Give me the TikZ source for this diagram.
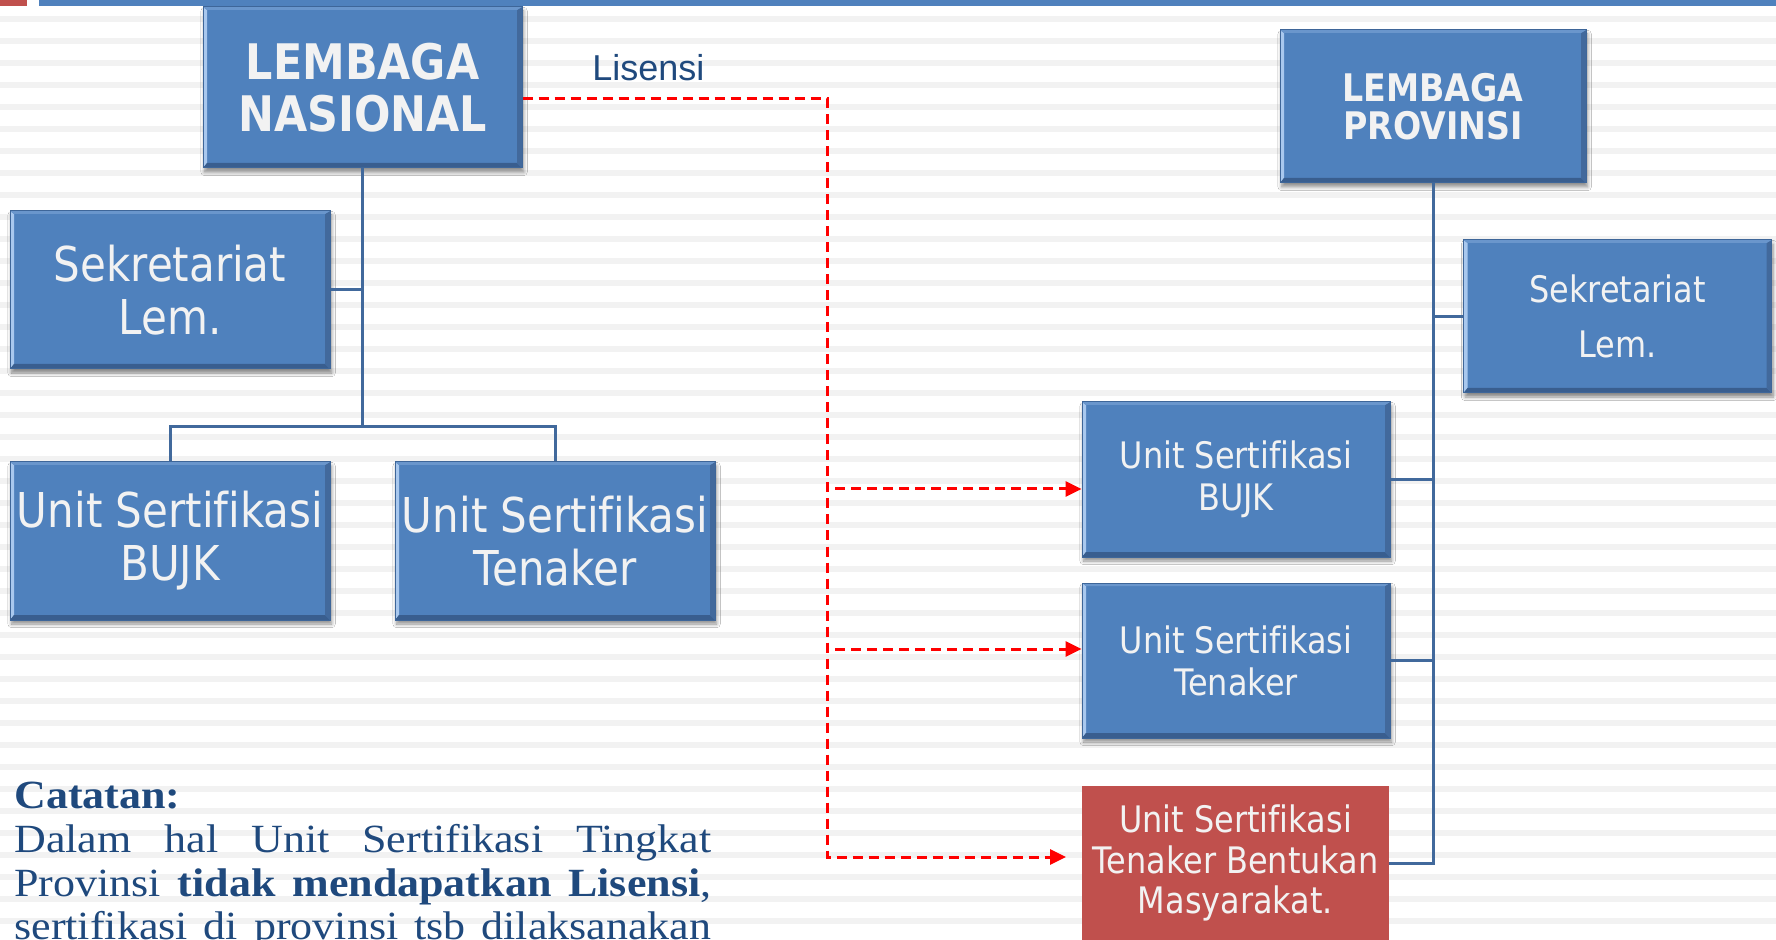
\documentclass[tikz,border=0pt]{standalone}
\usepackage{fontspec}
\setmainfont{Liberation Serif}
\newfontfamily\boxfont[FakeStretch=0.875,Ligatures=NoCommon]{DejaVu Sans}
\newfontfamily\labelfont{Liberation Sans}
\newfontfamily\notefont[FakeStretch=1.1]{Liberation Serif}
\usetikzlibrary{arrows.meta,calc,shadows.blur}

\definecolor{orgblue}{HTML}{4F81BD}
\definecolor{orgred}{HTML}{C0504D}
\definecolor{boxtext}{HTML}{F2F2F2}
\definecolor{bvborder}{HTML}{3E6699}
\definecolor{bvleft}{HTML}{A9C8EE}
\definecolor{bvtop}{HTML}{6A96CC}
\definecolor{bvright}{HTML}{42699C}
\definecolor{bvbottom}{HTML}{395E8F}
\definecolor{connblue}{HTML}{41699C}
\definecolor{notecol}{HTML}{1F497D}
\definecolor{stripe}{HTML}{F2F2F2}

\tikzset{
  bevel/.style={path picture={
    \path (path picture bounding box.north west) coordinate (q1)
          (path picture bounding box.south west) coordinate (q2)
          (path picture bounding box.south east) coordinate (q3)
          (path picture bounding box.north east) coordinate (q4);
    \fill[bvleft] (q1) -- (q2) -- ([shift={(2pt,2.5pt)}]q2) -- ([shift={(2pt,-1.5pt)}]q1) -- cycle;
    \fill[bvbottom] (q2) -- (q3) -- ([shift={(-2.5pt,2.5pt)}]q3) -- ([shift={(2pt,2.5pt)}]q2) -- cycle;
    \fill[bvright] (q3) -- (q4) -- ([shift={(-2.5pt,-1.5pt)}]q4) -- ([shift={(-2.5pt,2.5pt)}]q3) -- cycle;
    \fill[bvtop] (q4) -- (q1) -- ([shift={(2pt,-1.5pt)}]q1) -- ([shift={(-2.5pt,-1.5pt)}]q4) -- cycle;
  }},
  orgbox/.style={rectangle, fill=orgblue, draw=bvborder, line width=0.5pt,
    text=boxtext, align=center, inner sep=0pt, bevel,
    blur shadow={shadow xshift=0.8pt, shadow yshift=-2pt, shadow blur steps=6, shadow opacity=45}},
  bigbox/.style={orgbox, minimum width=160pt, minimum height=79pt,
    font=\boxfont\fontsize{24pt}{26.5pt}\selectfont},
  smallbox/.style={orgbox, minimum width=154pt, minimum height=77.5pt,
    font=\boxfont\fontsize{18.25pt}{21pt}\selectfont},
  redbox/.style={rectangle, fill=orgred, text=boxtext, align=center, inner sep=0pt,
    minimum width=153.5pt, minimum height=77pt,
    font=\boxfont\fontsize{18.25pt}{20.25pt}\selectfont},
  conn/.style={draw=connblue, line width=1.5pt},
  lic/.style={draw=red, line width=1.5pt, dash pattern=on 5pt off 3pt},
  lictip/.style={lic, -{Triangle[length=8pt,width=7.5pt]}},
  notetxt/.style={anchor=base west, inner sep=0pt, text=notecol,
    font=\notefont\fontsize{20pt}{22pt}\selectfont},
}

\begin{document}
\begin{tikzpicture}[x=0.5pt,y=-0.5pt]
  % page area
  \clip (0,0) rectangle (1776,940);
  \fill[white] (0,0) rectangle (1776,940);

  % striped background
  \foreach \k in {0,...,42}
    \fill[stripe] (0,16+22*\k) rectangle (1776,22+22*\k);

  % title bars
  \fill[orgred] (0,0) rectangle (27,6);
  \fill[orgblue] (39,0) rectangle (1776,6);

  % national body
  \node[orgbox, minimum width=159.5pt, minimum height=80.5pt,
        font=\boxfont\bfseries\fontsize{24.5pt}{26pt}\selectfont]
        (ln) at (362.5,87.5) {LEMBAGA\\NASIONAL};
  \node[bigbox] (sekL) at (170,290) {Sekretariat\\Lem.};
  \node[bigbox] (bujkL) at (170,541) {Unit Sertifikasi\\BUJK};
  \node[bigbox] (tenL) at (555,541) {Unit Sertifikasi\\Tenaker};

  % provincial body
  \node[orgbox, minimum width=153pt, minimum height=76.5pt,
        font=\boxfont\bfseries\fontsize{19pt}{19pt}\selectfont]
        (lp) at (1433,106.5) {LEMBAGA\\PROVINSI};
  \node[smallbox, minimum height=76.5pt,
        font=\boxfont\fontsize{18.25pt}{27.5pt}\selectfont]
        (sekR) at (1617.5,316.5) {Sekretariat\\Lem.};
  \node[smallbox] (bujkR) at (1236,479.5) {Unit Sertifikasi\\BUJK};
  \node[smallbox] (tenR) at (1236,660.5) {Unit Sertifikasi\\Tenaker};
  \node[redbox] (red) at (1235.5,863) {Unit Sertifikasi\\Tenaker Bentukan\\Masyarakat.};

  % national tree
  \coordinate (busL) at (0,427);
  \draw[conn] (ln.south) -- (ln.south |- busL);
  \draw[conn] (ln.south |- sekL.east) -- (sekL.east);
  \draw[conn] (bujkL.north) -- (bujkL.north |- busL) -- (tenL.north |- busL) -- (tenL.north);

  % provincial tree
  \draw[conn] (lp.south) -- (lp.south |- red.east) -- (red.east);
  \draw[conn] (lp.south |- sekR.west) -- (sekR.west);
  \draw[conn] (lp.south |- bujkR.east) -- (bujkR.east);
  \draw[conn] (lp.south |- tenR.east) -- (tenR.east);

  % licence lines
  \node[anchor=base west, inner sep=0pt, text=notecol,
        font=\labelfont\fontsize{18pt}{20pt}\selectfont] (lis) at (592,81) {Lisensi};
  \coordinate (trunkEnd) at (827,857);
  \coordinate (redTip) at (1066,857);
  \coordinate (b1) at (835,489);
  \coordinate (b2) at (835,649);
  \draw[lictip] ($(ln.east)+(0,11.5)$) -| (trunkEnd) -- (redTip);
  \draw[lictip] (b1) -- (b1 -| bujkR.west);
  \draw[lictip] (b2) -- (b2 -| tenR.west);

  % note
  \node[notetxt] (n0) at (14,808) {\bfseries Catatan:};
  \node[notetxt] (n1) at (14,852) {\makebox[348.5pt][s]{Dalam hal Unit Sertifikasi Tingkat}};
  \node[notetxt] (n2) at (14,896) {\makebox[348.5pt][s]{Provinsi \textbf{tidak mendapatkan Lisensi},}};
  \node[notetxt] (n3) at (14,939) {\makebox[348.5pt][s]{sertifikasi di provinsi tsb dilaksanakan}};
\end{tikzpicture}
\end{document}
